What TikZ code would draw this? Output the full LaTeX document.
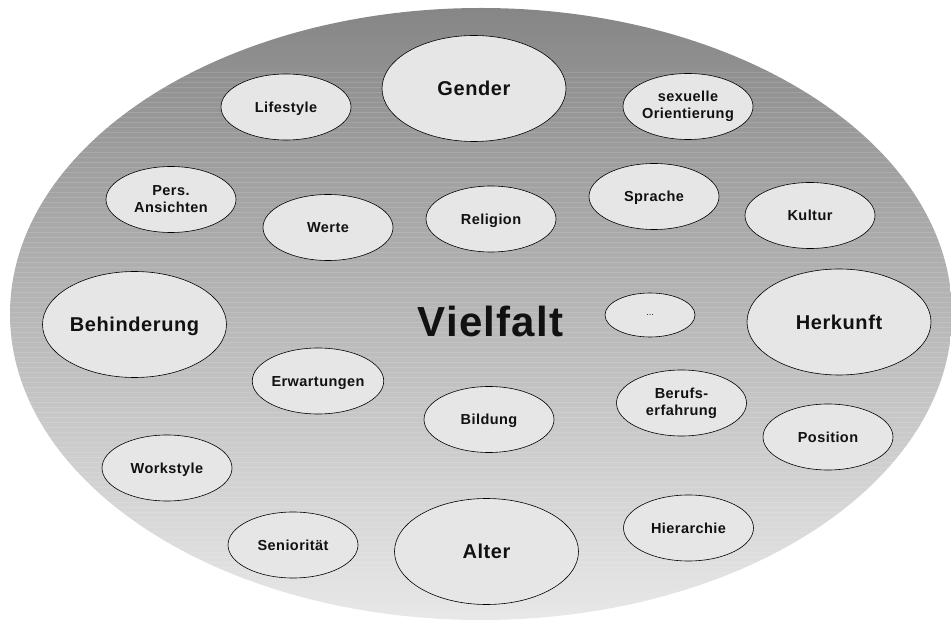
\documentclass[tikz,border=0pt]{standalone}
\usepackage{fontspec}
\setmainfont{Liberation Sans}
\newfontfamily\spacedsans[LetterSpace=3]{Liberation Sans}
\usetikzlibrary{shapes.geometric}
\definecolor{ovaltop}{RGB}{134,134,134}
\definecolor{ovalbottom}{RGB}{232,232,232}
\definecolor{bubble}{RGB}{230,230,230}
\definecolor{ink}{RGB}{17,17,17}
\tikzset{
  bubblebase/.style={ellipse, draw=black, line width=0.6pt, fill=bubble,
    inner sep=0pt, text=ink, font=\spacedsans\bfseries\fontsize{14.5}{17}\selectfont, align=center},
  smallbub/.style={bubblebase, minimum width=130pt, minimum height=66pt},
  bigbub/.style={bubblebase, minimum width=184pt, minimum height=106pt,
    font=\spacedsans\bfseries\fontsize{20}{24}\selectfont},
  dotsbub/.style={bubblebase, minimum width=90pt, minimum height=44pt,
    font=\fontsize{9}{10}\selectfont},
  oneline/.style={text height=10.4pt, text depth=0pt},
  bigline/.style={text height=14.3pt, text depth=0pt}
}
\begin{document}
\begin{tikzpicture}[x=1pt, y=-1pt]
\useasboundingbox (0,0) rectangle (951,620);

% large shaded oval
\node[ellipse, minimum width=942pt, minimum height=612pt, inner sep=0pt,
  top color=ovaltop, bottom color=ovalbottom, draw=none] (oval) at (481,314) {};
\begin{scope}
  \clip (481,314) ellipse [x radius=471, y radius=306];
  \foreach \yy in {72,77,...,575}
    \draw[white, opacity=0.13, line width=0.8pt] (0,\yy) -- (951,\yy);
\end{scope}

% centre title
\node[font=\spacedsans\bfseries\fontsize{42}{48}\selectfont, text=ink, anchor=base] (title) at (490.5,337) {Vielfalt};

% bubbles
\node[bigbub, bigline] (gender) at (474,88.5) {Gender};
\node[smallbub, oneline] (lifestyle) at (286,107) {Lifestyle};
\node[smallbub] (sexor) at (688,106.5) {sexuelle\\Orientierung};
\node[smallbub] (pers) at (171,199.5) {Pers.\\Ansichten};
\node[smallbub, oneline] (werte) at (328,227.5) {Werte};
\node[smallbub, oneline] (religion) at (491,219) {Religion};
\node[smallbub, oneline] (sprache) at (654,196.5) {Sprache};
\node[smallbub, oneline] (kultur) at (810,215.5) {Kultur};
\node[bigbub, bigline] (behinderung) at (134.5,324.5) {Behinderung};
\node[dotsbub] (dots) at (650,315) {...};
\node[bigbub, bigline] (herkunft) at (839,322) {Herkunft};
\node[smallbub, oneline] (erwartungen) at (318,381) {Erwartungen};
\node[smallbub, oneline] (bildung) at (489,419.5) {Bildung};
\node[smallbub] (beruf) at (681.5,403) {Berufs-\\erfahrung};
\node[smallbub, oneline] (position) at (828,437) {Position};
\node[smallbub, oneline] (workstyle) at (167,468) {Workstyle};
\node[smallbub, oneline] (senioritaet) at (293,545) {Seniorität};
\node[bigbub, bigline] (alter) at (486.5,551.5) {Alter};
\node[smallbub, oneline] (hierarchie) at (688.5,528) {Hierarchie};
\end{tikzpicture}
\end{document}
